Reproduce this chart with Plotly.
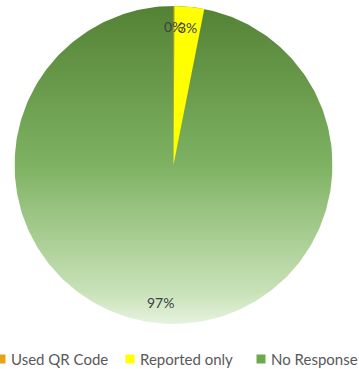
import numpy as np
import plotly.graph_objects as go

# ---- data ----
categories = ["Used QR Code", "Reported only", "No Response"]
values = [0.1, 3.0, 96.9]
colors = ["#E8A317", "#FFFF00", "#6FA84C"]

# ---- geometry (pixel layout of the 359x369 page) ----
W, H = 359, 369
cx, cy, R = 173.5, 165.0, 159.0
dom_x = [(cx - R) / W, (cx + R) / W]
dom_y = [1 - (cy + R) / H, 1 - (cy - R) / H]

fig = go.Figure()

# gradient disc behind the pie (the green slice is see-through)
t = np.linspace(0, 2 * np.pi, 361)
fig.add_trace(go.Scatter(
    x=np.cos(t), y=np.sin(t), mode="lines", fill="toself",
    line=dict(width=0, color="rgba(0,0,0,0)"),
    fillgradient=dict(type="vertical", colorscale=[
        [0.0, "rgb(230,242,222)"],
        [0.1, "rgb(200,226,184)"],
        [0.5, "rgb(126,178,98)"],
        [1.0, "rgb(84,130,53)"],
    ]),
    hoverinfo="skip", showlegend=False,
))

pie_colors = colors[:2] + ["rgba(0,0,0,0)"]
fig.add_trace(go.Pie(
    labels=categories, values=values, sort=False, direction="clockwise",
    rotation=0, marker=dict(colors=pie_colors, line=dict(width=0)),
    textinfo="none", showlegend=False, domain=dict(x=dom_x, y=dom_y),
    hoverinfo="label+percent",
))

# percent labels at 0.87 R on each slice's mid angle
total = sum(values)
cum = 0.0
for v in values:
    mid = (cum + v / 2) / total
    cum += v
    th = 2 * np.pi * mid
    fig.add_annotation(
        x=0.87 * np.sin(th), y=0.87 * np.cos(th), xref="x", yref="y",
        text=f"{round(100 * v / total)}%", showarrow=False,
        font=dict(family="Lato", size=14, color="#404040"),
    )

# legend row (swatch + label) along the bottom
legend_text_x = [9, 138, 269]
legend_y = 359
sw = 9
for name, c, tx in zip(categories, colors, legend_text_x):
    mx = tx - 8
    fig.add_shape(
        type="rect", xref="paper", yref="paper",
        x0=(mx - sw / 2) / W, x1=(mx + sw / 2) / W,
        y0=1 - (legend_y + sw / 2) / H, y1=1 - (legend_y - sw / 2) / H,
        fillcolor=c, line=dict(width=0),
    )
    fig.add_annotation(
        x=tx / W, y=1 - legend_y / H, xref="paper", yref="paper",
        xanchor="left", yanchor="middle", text=name, showarrow=False,
        font=dict(family="Lato", size=15, color="#595959"),
    )

fig.update_layout(
    width=W, height=H, margin=dict(l=0, r=0, t=0, b=0),
    paper_bgcolor="white", plot_bgcolor="rgba(0,0,0,0)",
    xaxis=dict(domain=dom_x, range=[-1, 1], visible=False, fixedrange=True),
    yaxis=dict(domain=dom_y, range=[-1, 1], visible=False, fixedrange=True),
    showlegend=False,
)

fig.write_html("out.html")
